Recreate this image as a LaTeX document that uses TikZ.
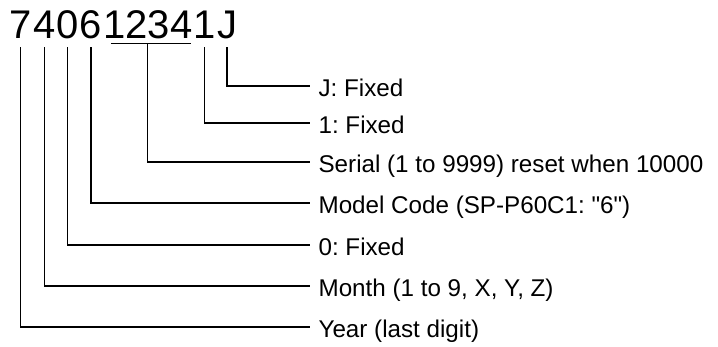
\documentclass[tikz,border=0pt]{standalone}
\usepackage{fontspec}
\setmainfont{Liberation Sans}
\usetikzlibrary{positioning}
\frenchspacing

\begin{document}
\begin{tikzpicture}[x = 1pt, y = -1pt, line width = 1.2pt,
        digit/.style = {inner sep = 0pt, font = \fontsize{40}{40}\selectfont, text depth = 8pt},
        fieldtext/.style = {anchor = west, inner xsep = 8pt, inner ysep = 0pt,
            font = \fontsize{24.2}{24.2}\selectfont, text height = 22pt, text depth = 0pt}]
        \useasboundingbox (0,0) rectangle (718,347);

        \node[digit, anchor = base west] (c1) at (9,38.5) {7};
        \node[digit, base right = 0pt of c1] (c2) {4};
        \node[digit, base right = 0pt of c2] (c3) {0};
        \node[digit, base right = 0pt of c3] (c4) {6};
        \node[digit, base right = 0pt of c4, text depth = 4.5pt] (serial) {1234};
        \node[digit, base right = 0pt of serial] (c9) {1};
        \node[digit, base right = 0pt of c9] (c10) {J};

        \node[fieldtext] (fJ) at (310,86) {J: Fixed};
        \node[fieldtext] (f1) at (310,123) {1: Fixed};
        \node[fieldtext] (fserial) at (310,162) {Serial (1 to 9999) reset when 10000};
        \node[fieldtext] (fmodel) at (310,203) {Model Code (SP-P60C1: \textquotedbl6\textquotedbl)};
        \node[fieldtext] (f0) at (310,245) {0: Fixed};
        \node[fieldtext] (fmonth) at (310,286) {Month (1 to 9, X, Y, Z)};
        \node[fieldtext] (fyear) at (310,327) {Year (last digit)};

        \draw ([xshift = 8pt]serial.south west) -- ([xshift = -2pt]serial.south east);

        \draw (c10.south) |- (fJ.west);
        \draw (c9.south) |- (f1.west);
        \draw (serial.south) |- (fserial.west);
        \draw (c4.south) |- (fmodel.west);
        \draw (c3.south) |- (f0.west);
        \draw (c2.south) |- (fmonth.west);
        \draw (c1.south) |- (fyear.west);
    \end{tikzpicture}
\end{document}
